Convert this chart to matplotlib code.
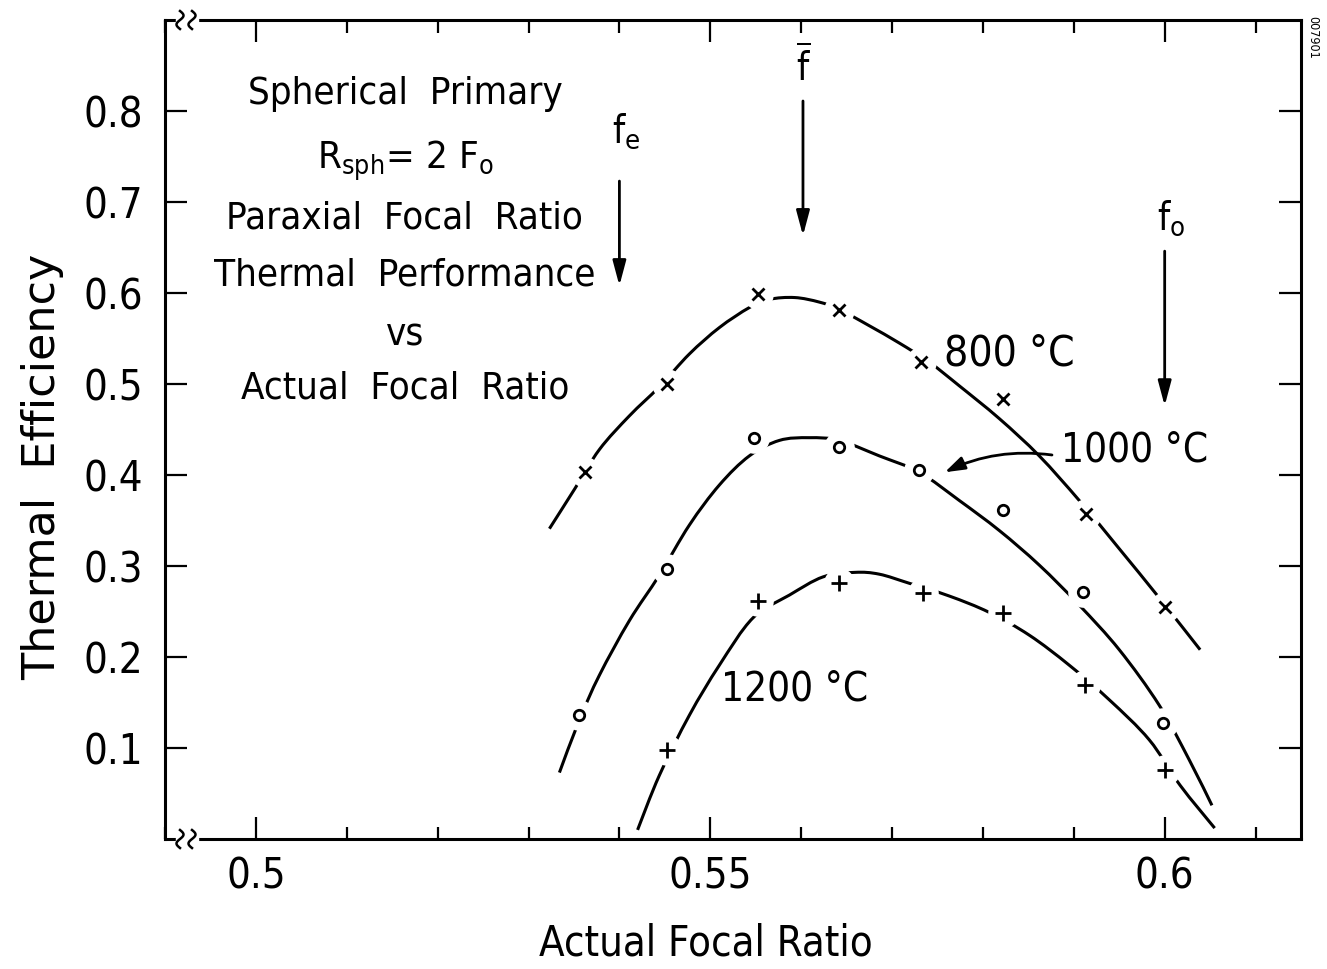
import matplotlib
matplotlib.use("Agg")
import matplotlib.pyplot as plt
from matplotlib.ticker import MultipleLocator, FixedLocator
from matplotlib.lines import Line2D
from matplotlib.path import Path
from matplotlib.patches import PathPatch
import numpy as np

FONT = "DejaVu Sans"
plt.rcParams['font.family'] = [FONT]
plt.rcParams['font.stretch'] = 'condensed'
plt.rcParams['mathtext.fontset'] = 'custom'
plt.rcParams['mathtext.rm'] = FONT
plt.rcParams['mathtext.default'] = 'regular'

# ---- data ----
x_markers = [0.5362, 0.5452, 0.5552, 0.5642, 0.5732, 0.5822, 0.5913, 0.6000]
eff_800 = [0.403, 0.500, 0.599, 0.581, 0.524, 0.484, 0.357, 0.255]
x_1000 = [0.5356, 0.5452, 0.5548, 0.5642, 0.5730, 0.5822, 0.5910, 0.5998]
eff_1000 = [0.136, 0.297, 0.441, 0.431, 0.405, 0.361, 0.271, 0.127]
x_1200 = [0.5452, 0.5552, 0.5642, 0.5734, 0.5822, 0.5912, 0.6000]
eff_1200 = [0.098, 0.262, 0.281, 0.270, 0.248, 0.169, 0.076]

# smooth fitted curves
cx_800 = [0.5323, 0.5351, 0.5378, 0.5411, 0.5444, 0.5477, 0.5510, 0.5543, 0.5565, 0.5593,
          0.5620, 0.5642, 0.5675, 0.5708, 0.5741, 0.5774, 0.5818, 0.5862, 0.5906, 0.5950,
          0.5994, 0.6039]
cy_800 = [0.341, 0.385, 0.428, 0.465, 0.497, 0.533, 0.562, 0.584, 0.593, 0.595,
          0.590, 0.582, 0.564, 0.545, 0.524, 0.498, 0.462, 0.421, 0.372, 0.319,
          0.265, 0.208]
cx_1000 = [0.5334, 0.5356, 0.5378, 0.5411, 0.5444, 0.5477, 0.5510, 0.5543, 0.5576, 0.5609,
           0.5642, 0.5686, 0.5730, 0.5774, 0.5818, 0.5862, 0.5906, 0.5950, 0.5994, 0.6027,
           0.6052]
cy_1000 = [0.073, 0.131, 0.180, 0.240, 0.290, 0.345, 0.389, 0.421, 0.438, 0.441,
           0.438, 0.421, 0.403, 0.372, 0.339, 0.301, 0.257, 0.208, 0.147, 0.087,
           0.037]
cx_1200 = [0.5420, 0.5444, 0.5477, 0.5510, 0.5547, 0.5587, 0.5624, 0.5659, 0.5686, 0.5719,
           0.5763, 0.5807, 0.5851, 0.5895, 0.5939, 0.5983, 0.6017, 0.6055]
cy_1200 = [0.010, 0.070, 0.136, 0.191, 0.243, 0.268, 0.288, 0.293, 0.291, 0.281,
           0.267, 0.249, 0.224, 0.191, 0.153, 0.109, 0.059, 0.012]

x_ticks_major = [0.5, 0.55, 0.6]
x_tick_labels = ["0.5", "0.55", "0.6"]
y_ticks = [0.1, 0.2, 0.3, 0.4, 0.5, 0.6, 0.7, 0.8]
y_tick_labels = ["0.1", "0.2", "0.3", "0.4", "0.5", "0.6", "0.7", "0.8"]

W, H = 1327, 969
fig = plt.figure(figsize=(W / 100, H / 100), dpi=100)
ax = fig.add_axes([165 / W, 1 - 839 / H, (1301 - 165) / W, (839 - 20) / H])
ax.set_xlim(0.49, 0.615)
ax.set_ylim(0.0, 0.9)

LW = 2.2
for s in ax.spines.values():
    s.set_linewidth(LW)

ax.xaxis.set_major_locator(FixedLocator(x_ticks_major))
ax.xaxis.set_minor_locator(MultipleLocator(0.01))
ax.set_xticklabels(x_tick_labels)
ax.yaxis.set_major_locator(FixedLocator(y_ticks))
ax.set_yticklabels(y_tick_labels)
ax.tick_params(which='major', direction='in', length=16, width=1.6,
               top=True, right=True, labelsize=30)
ax.tick_params(which='minor', direction='in', length=9, width=1.6,
               top=True, right=True)
ax.tick_params(axis='y', which='major', pad=16)
ax.tick_params(axis='x', which='major', pad=12)

ax.set_ylabel("Thermal  Efficiency", fontsize=32, labelpad=14, fontstretch='normal')
ax.yaxis.label.set_y(0.455)
ax.set_xlabel("Actual Focal Ratio", fontsize=30, labelpad=18)
ax.xaxis.label.set_x(0.476)


def smooth_path(xs, ys):
    """Catmull-Rom rendering through the read points, as cubic Bezier segments."""
    P = ax.transData.transform(np.column_stack([xs, ys]))
    verts = [P[0]]
    codes = [Path.MOVETO]
    n = len(P)
    for i in range(n - 1):
        p0 = P[i - 1] if i > 0 else P[i]
        p1, p2 = P[i], P[i + 1]
        p3 = P[i + 2] if i + 2 < n else P[i + 1]
        c1 = p1 + (p2 - p0) / 6.0
        c2 = p2 - (p3 - p1) / 6.0
        verts += [c1, c2, p2]
        codes += [Path.CURVE4] * 3
    inv = ax.transData.inverted()
    return Path(inv.transform(np.array(verts)), codes)


for cx, cy in [(cx_800, cy_800), (cx_1000, cy_1000), (cx_1200, cy_1200)]:
    ax.add_patch(PathPatch(smooth_path(cx, cy), fill=False, edgecolor='black',
                           lw=2.2, capstyle='butt', zorder=2))

# markers with white gap behind them
for xs, ys, m, ms in [(x_markers, eff_800, 'x', 9), (x_1000, eff_1000, 'o', 7.5),
                      (x_1200, eff_1200, '+', 11)]:
    ax.plot(xs, ys, ls='none', marker='o', ms=22, mfc='white', mec='none', zorder=3)
    ax.plot(xs, ys, ls='none', marker=m, ms=ms, mfc='white' if m == 'o' else 'none',
            mec='black', mew=2.0, zorder=4)

# text block
block_x = 0.5164
for txt, yy in [("Spherical  Primary", 0.819),
                (r"R$_{sph}$= 2 F$_{o}$", 0.745),
                ("Paraxial  Focal  Ratio", 0.682),
                ("Thermal  Performance", 0.619),
                ("vs", 0.553),
                ("Actual  Focal  Ratio", 0.495)]:
    ax.text(block_x, yy, txt, ha='center', va='center', fontsize=27.5)

# curve labels
ax.text(0.5829, 0.534, "800 °C", ha='center', va='center', fontsize=30.5)
ax.text(0.5967, 0.427, "1000 °C", ha='center', va='center', fontsize=29)
ax.text(0.5593, 0.164, "1200 °C", ha='center', va='center', fontsize=29)

ax.annotate("", xy=(0.5758, 0.403), xytext=(0.5876, 0.422),
            arrowprops=dict(arrowstyle='-|>,head_length=1.2,head_width=0.4', lw=2.0,
                            color='black', connectionstyle='arc3,rad=0.15',
                            shrinkA=0, shrinkB=0))

# focal ratio arrows
arrow_kw = dict(arrowstyle='-|>,head_length=1.5,head_width=0.4', lw=2.0, color='black',
                shrinkA=0, shrinkB=0)
ax.annotate("", xy=(0.5400, 0.608), xytext=(0.5400, 0.723), arrowprops=arrow_kw)
ax.annotate("", xy=(0.5602, 0.663), xytext=(0.5602, 0.811), arrowprops=arrow_kw)
ax.annotate("", xy=(0.6000, 0.476), xytext=(0.6000, 0.646), arrowprops=arrow_kw)
ax.text(0.5408, 0.778, r"f$_{e}$", ha='center', va='center', fontsize=28)
ax.text(0.5602, 0.848, r"$\overline{f}$", ha='center', va='center', fontsize=28)
ax.text(0.6007, 0.682, r"f$_{o}$", ha='center', va='center', fontsize=28)

# axis break marks on the top and bottom spines
for ypix in (20, 839):
    fig.patches.append(plt.Rectangle((176 / W, (H - ypix - 4) / H), 22 / W, 8 / H,
                                     transform=fig.transFigure, color='white', zorder=5))
    t = np.linspace(-1, 1, 50)
    for x0 in (180, 192):
        xs = x0 + 3.5 * np.sin(t * np.pi)
        ys = (H - ypix) + 9 * t
        fig.lines.append(Line2D(xs / W, ys / H, transform=fig.transFigure,
                                color='black', lw=1.8, zorder=6))

fig.text(1313 / W, 1 - 37 / H, "007901", rotation=-90, ha='center', va='center', fontsize=9)

fig.savefig("out.png", dpi=100)
